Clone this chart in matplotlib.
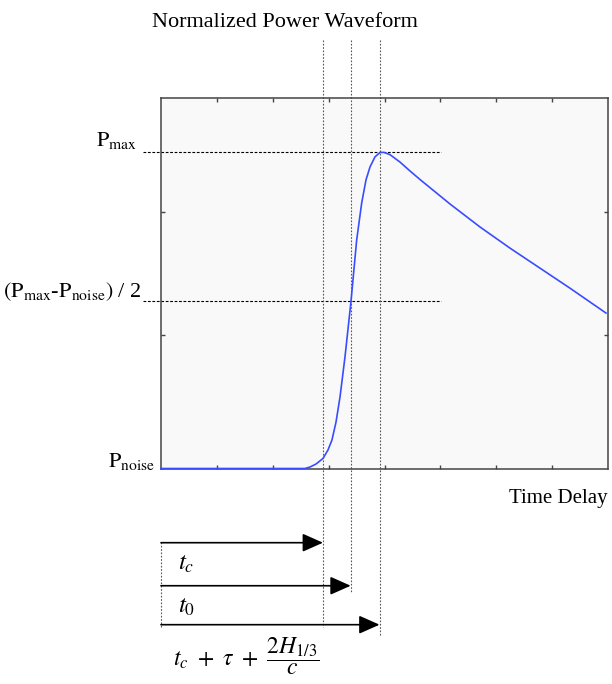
import matplotlib
matplotlib.use("Agg")
import matplotlib.pyplot as plt

plt.rcParams['font.family'] = ['Liberation Serif', 'DejaVu Serif']
plt.rcParams['mathtext.fontset'] = 'stix'

# Waveform read points (time delay units, normalized power)
time_delay = [0.0, 2.577, 2.667, 2.774, 2.899, 2.989, 3.060, 3.132, 3.204, 3.293,
              3.400, 3.502, 3.592, 3.669, 3.741, 3.830, 3.920, 3.991, 4.098, 4.277,
              4.456, 4.635, 5.172, 5.709, 6.246, 6.783, 7.320, 7.964]
power = [0.0, 0.0, 0.004, 0.012, 0.027, 0.050, 0.077, 0.125, 0.193, 0.301,
         0.450, 0.616, 0.716, 0.778, 0.813, 0.840, 0.852, 0.852, 0.846, 0.826,
         0.802, 0.779, 0.713, 0.651, 0.594, 0.540, 0.486, 0.419]

p_noise, p_half, p_max = 0.0, 0.4515, 0.853
t_c, t_0, t_peak = 2.899, 3.395, 3.911

fig = plt.figure(figsize=(6.12, 6.84), dpi=100)
ax = fig.add_axes([161 / 612, (684 - 468.5) / 684, 447 / 612, 371 / 684])
ax.set_facecolor('#f9f9f9')
ax.set_xlim(0, 8)
ax.set_ylim(0, 1)

for s in ax.spines.values():
    s.set_color('#444444')
    s.set_linewidth(1.1)

ax.set_xticks(range(1, 8))
ax.set_yticks([0.360, 0.691])
ax.tick_params(direction='in', length=3, width=1, color='#444444',
               top=True, right=True, labelbottom=False, labelleft=False)

# reference levels
dash = dict(color='black', lw=0.8, ls=(0, (2.5, 1.5)), clip_on=False)
ax.plot([-0.322, 5.011], [p_max, p_max], **dash)
ax.plot([-0.322, 5.011], [p_half, p_half], **dash)

# time markers running down past the axes
dot = dict(color='#555555', lw=0.8, ls=(0, (1.5, 1.5)), clip_on=False)
ax.plot([t_c, t_c], [1.156, -0.427], **dot)
ax.plot([t_0, t_0], [1.156, -0.335], **dot)
ax.plot([t_peak, t_peak], [1.156, -0.448], **dot)
ax.plot([0, 0], [-0.198, -0.430], **dot)

ax.plot(time_delay, power, color='#3a4cff', lw=1.2, clip_on=False, zorder=5)

# arrows measured from the start of the window
for x_end, y in [(t_c, -0.200), (t_0, -0.316), (t_peak, -0.421)]:
    ax.annotate('', xy=(x_end, y), xytext=(0, y), annotation_clip=False,
                arrowprops=dict(arrowstyle='-|>,head_length=0.9,head_width=0.4',
                                color='black', lw=1.2, mutation_scale=14,
                                shrinkA=0, shrinkB=0))

fig.text(285 / 612, 1 - 27 / 684, 'Normalized Power Waveform', fontsize=16,
         ha='center', va='baseline')
fig.text(608 / 612, 1 - 503 / 684, 'Time Delay', fontsize=15,
         ha='right', va='baseline')

fig.text(137 / 612, 1 - 146 / 684, r'$\mathrm{P}_{\mathrm{max}}$', fontsize=16,
         ha='right', va='baseline')
fig.text(142 / 612, 1 - 297 / 684, r'$(\mathrm{P}_{\mathrm{max}}$-$\mathrm{P}_{\mathrm{noise}})$ / 2',
         fontsize=16, ha='right', va='baseline')
fig.text(155 / 612, 1 - 467 / 684, r'$\mathrm{P}_{\mathrm{noise}}$', fontsize=16,
         ha='right', va='baseline')

fig.text(178 / 612, 1 - 570 / 684, r'$t_c$', fontsize=18, ha='left', va='baseline')
fig.text(178 / 612, 1 - 613 / 684, r'$t_0$', fontsize=18, ha='left', va='baseline')
fig.text(173 / 612, 1 - 656 / 684, r'$t_c\ +\ \tau\ +\ \dfrac{2H_{1/3}}{c}$', fontsize=17,
         ha='left', va='center')

fig.savefig('out.png', dpi=100)
